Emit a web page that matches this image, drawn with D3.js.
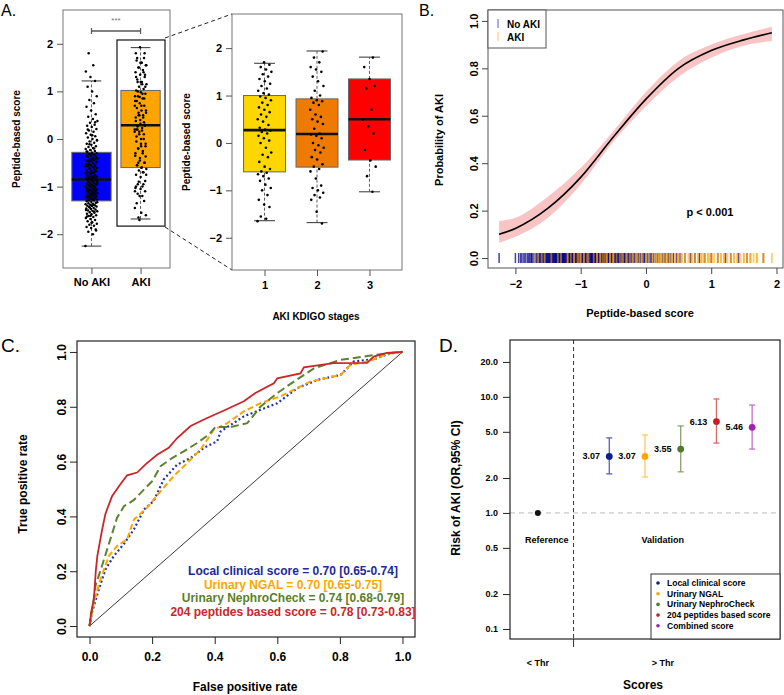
<!DOCTYPE html>
<html><head><meta charset="utf-8">
<script src="https://cdn.jsdelivr.net/npm/d3@7"></script>
<style>
body{margin:0;background:#fff}
svg{display:block}
text{font-family:"Liberation Sans",Arial,Helvetica,sans-serif}
</style>
</head><body>
<svg id="c" width="784" height="695"></svg>
<script>
// ---------------- DATA ----------------
// Panel A: peptide-based score by group
const groupsA = ["No AKI", "AKI"];
const noAki = [
 -2.25,-2.0,-1.95,-1.9,-1.87,-1.85,-1.82,-1.8,-1.78,-1.75,-1.73,-1.7,-1.68,-1.66,-1.64,-1.62,-1.6,-1.58,-1.57,-1.55,
 -1.54,-1.52,-1.51,-1.5,-1.48,-1.47,-1.46,-1.45,-1.43,-1.42,-1.41,-1.4,-1.39,-1.38,-1.37,-1.36,-1.35,-1.34,-1.32,-1.31,
 -1.29,-1.28,-1.27,-1.26,-1.25,-1.24,-1.23,-1.22,-1.21,-1.2,-1.19,-1.18,-1.17,-1.16,-1.15,-1.14,-1.13,-1.12,-1.11,-1.1,
 -1.09,-1.08,-1.07,-1.06,-1.05,-1.04,-1.02,-1.01,-1.0,-0.99,-0.97,-0.96,-0.95,-0.94,-0.93,-0.92,-0.9,-0.89,-0.87,-0.86,
 -0.84,-0.83,-0.82,-0.8,-0.79,-0.78,-0.76,-0.75,-0.74,-0.72,-0.71,-0.7,-0.68,-0.67,-0.65,-0.64,-0.62,-0.61,-0.59,-0.58,
 -0.56,-0.55,-0.53,-0.52,-0.5,-0.49,-0.47,-0.46,-0.44,-0.43,-0.41,-0.4,-0.38,-0.37,-0.35,-0.34,-0.33,-0.31,-0.3,-0.29,
 -0.27,-0.25,-0.23,-0.21,-0.19,-0.17,-0.15,-0.12,-0.1,-0.08,-0.05,-0.03,0.0,0.03,0.06,0.09,0.12,0.15,0.18,0.21,
 0.25,0.28,0.3,0.34,0.38,0.42,0.47,0.52,0.6,0.68,0.75,0.82,0.9,1.0,1.1,1.22,1.3,1.42,1.55,1.8,
 -1.92,-1.76,-1.63,-1.53,-1.44,-1.33,-1.27,-1.19,-1.13,-1.07,-1.03,-0.98,-0.91,-0.85,-0.81,-0.77,-0.69,-0.63,-0.57,-0.51,
 -0.45,-0.39,-0.32,-0.26,-0.2,-0.11,-0.02,0.08,0.2,0.35,
 -1.61,-1.49,-1.38,-1.29,-1.21,-1.16,-1.09,-1.04,-0.99,-0.94,-0.88,-0.83,-0.78,-0.73,-0.66,-0.6,-0.54,-0.48,-0.42,-0.36
];
const stage1 = [
 -1.65,-1.6,-1.55,-1.35,-1.3,-1.2,-1.1,-1.0,-0.95,-0.88,-0.8,-0.75,-0.7,-0.66,-0.63,
 -0.6,-0.55,-0.5,-0.4,-0.3,-0.25,-0.2,-0.1,0.0,0.05,0.1,0.15,0.2,0.23,0.26,
 0.28,0.32,0.38,0.45,0.5,0.55,0.6,0.65,0.7,0.75,0.8,0.85,0.9,0.95,0.98,
 1.02,1.05,1.1,1.15,1.2,1.25,1.3,1.35,1.4,1.45,1.5,1.55,1.6,1.65,1.7
];
const stage2 = [
 -1.7,-1.45,-1.2,-1.15,-1.1,-1.05,-1.0,-0.95,-0.9,-0.75,-0.6,-0.55,
 -0.5,-0.45,-0.35,-0.3,-0.2,-0.15,-0.1,-0.05,0.0,0.1,0.15,0.18,
 0.2,0.3,0.4,0.45,0.5,0.55,0.6,0.7,0.8,0.85,0.88,0.9,
 0.95,1.0,1.1,1.2,1.3,1.4,1.5,1.55,1.6,1.7,1.8,1.93
];
const stage3 = [-1.03,-0.7,-0.5,-0.37,-0.15,0.2,0.35,0.5,0.7,1.15,1.2,1.35,1.6,1.8];
const aki = stage1.concat(stage2, stage3);
// box statistics: [lowWhisker, Q1, median, Q3, highWhisker]
const boxA = [[-2.25,-1.3,-0.85,-0.28,1.22],[-1.68,-0.6,0.29,1.02,1.92]];
const stagesLabels = ["1","2","3"];
const boxStages = [[-1.64,-0.61,0.27,1.0,1.68],[-1.68,-0.51,0.19,0.93,1.94],[-1.03,-0.36,0.5,1.35,1.81]];
const ticksScore = [-2,-1,0,1,2];

// Panel B: logistic fit
const fitX  = [-2.25,-2.0,-1.5,-1.0,-0.5,0.0,0.5,1.0,1.5,1.93];
const fitP  = [0.10,0.125,0.21,0.34,0.51,0.67,0.80,0.875,0.92,0.95];
const fitLo = [0.065,0.09,0.17,0.31,0.49,0.64,0.765,0.845,0.895,0.915];
const fitHi = [0.155,0.17,0.26,0.38,0.535,0.70,0.83,0.90,0.945,0.975];
const ticksProb = [0,0.2,0.4,0.6,0.8,1.0];

// Panel C: ROC curves [FPR, TPR]
const rocLocal = [[0,0],[0.008,0.05],[0.03,0.135],[0.051,0.207],[0.078,0.256],[0.11,0.30],[0.142,0.353],[0.174,0.425],[0.205,0.456],[0.237,0.535],[0.28,0.589],[0.323,0.613],[0.365,0.65],[0.408,0.674],[0.419,0.71],[0.493,0.765],[0.546,0.789],[0.6,0.813],[0.664,0.868],[0.728,0.898],[0.802,0.916],[0.844,0.965],[0.908,0.973],[0.96,0.995],[1,1]];
const rocNgal = [[0,0],[0.014,0.086],[0.035,0.171],[0.062,0.256],[0.088,0.292],[0.12,0.316],[0.142,0.389],[0.184,0.432],[0.227,0.492],[0.269,0.547],[0.312,0.595],[0.355,0.644],[0.397,0.716],[0.44,0.74],[0.493,0.783],[0.546,0.813],[0.61,0.838],[0.664,0.868],[0.706,0.892],[0.802,0.916],[0.834,0.953],[0.898,0.968],[0.95,0.993],[1,1]];
const rocNephro = [[0,0],[0.01,0.07],[0.019,0.147],[0.04,0.22],[0.062,0.30],[0.088,0.395],[0.11,0.437],[0.142,0.46],[0.179,0.504],[0.2,0.528],[0.227,0.583],[0.264,0.613],[0.301,0.637],[0.344,0.668],[0.381,0.698],[0.402,0.726],[0.45,0.726],[0.504,0.74],[0.546,0.80],[0.6,0.85],[0.653,0.892],[0.717,0.94],[0.802,0.971],[0.887,0.985],[0.95,0.995],[1,1]];
const rocPeptide = [[0,0],[0.005,0.05],[0.014,0.098],[0.02,0.2],[0.025,0.256],[0.04,0.35],[0.051,0.41],[0.072,0.474],[0.094,0.51],[0.12,0.55],[0.152,0.56],[0.179,0.59],[0.216,0.625],[0.253,0.65],[0.28,0.686],[0.323,0.73],[0.376,0.759],[0.435,0.789],[0.493,0.82],[0.53,0.85],[0.589,0.886],[0.6,0.904],[0.674,0.922],[0.685,0.944],[0.78,0.959],[0.887,0.96],[0.908,0.983],[0.95,0.997],[1,1]];
const rocLabels = ["Local clinical score = 0.70 [0.65-0.74]","Urinary NGAL = 0.70 [0.65-0.75]","Urinary NephroCheck = 0.74 [0.68-0.79]","204 peptides based score = 0.78 [0.73-0.83]"];
const ticksRate = [0,0.2,0.4,0.6,0.8,1.0];

// Panel D: odds ratios
const scoreNames = ["Local clinical score","Urinary NGAL","Urinary NephroCheck","204 peptides based score","Combined score"];
const orValues = [3.07,3.07,3.55,6.13,5.46];
const ciLow  = [2.17,2.04,2.26,4.0,3.55];
const ciHigh = [4.43,4.7,5.62,9.6,8.5];
const refOR = 1.0;
const ticksOR = [0.1,0.2,0.5,1.0,2.0,5.0,10.0,20.0];
const xCatsD = ["< Thr","> Thr"];

// ---------------- DRAW ----------------
const svg = d3.select("#c");
const F = '"Liberation Sans",Arial,sans-serif';
function txt(g,x,y,s,o={}){
  const t=g.append("text").attr("x",x).attr("y",y).text(s)
   .attr("font-size",o.size||11).attr("font-weight",o.w||"bold")
   .attr("text-anchor",o.anchor||"middle").attr("fill",o.fill||"#000");
  if(o.rot) t.attr("transform",`rotate(${o.rot},${x},${y})`);
  return t;
}
function frame(x0,y0,x1,y1,stroke="#666",w=1){
  svg.append("rect").attr("x",x0).attr("y",y0).attr("width",x1-x0).attr("height",y1-y0)
   .attr("fill","none").attr("stroke",stroke).attr("stroke-width",w);
}
function styleAxis(g,size,col="#333"){
  g.select(".domain").remove();
  g.selectAll(".tick line").attr("stroke",col);
  g.selectAll(".tick text").attr("font-size",size).attr("font-weight","bold").attr("fill","#000").attr("font-family",F);
}
function jit(i,w){ return (((i*0.6180339887)%1)-0.5)*2*w; }

// Panel letters
txt(svg,1,16,"A.",{size:16,w:"normal",anchor:"start"});
txt(svg,419,16,"B.",{size:16,w:"normal",anchor:"start"});
txt(svg,1,352,"C.",{size:19,w:"normal",anchor:"start"});
txt(svg,439,352,"D.",{size:19,w:"normal",anchor:"start"});

// ---- Panel A left ----
const xA = d3.scaleLinear().domain([0.42,2.6]).range([63,170]);
const yA = d3.scaleLinear().domain([-2.71,2.71]).range([268,10]);
const colA = ["#0000FF","#FFA500"];
function boxplot(g,xs,ys,i,st,fill,bw){
  const cx=xs(i+1), hw=(xs(1+bw/2)-xs(1));
  g.append("line").attr("x1",cx).attr("x2",cx).attr("y1",ys(st[0])).attr("y2",ys(st[1])).attr("stroke","#333").attr("stroke-dasharray","3,2").attr("stroke-width",0.8);
  g.append("line").attr("x1",cx).attr("x2",cx).attr("y1",ys(st[3])).attr("y2",ys(st[4])).attr("stroke","#333").attr("stroke-dasharray","3,2").attr("stroke-width",0.8);
  [st[0],st[4]].forEach(v=>g.append("line").attr("x1",cx-hw/2).attr("x2",cx+hw/2).attr("y1",ys(v)).attr("y2",ys(v)).attr("stroke","#444").attr("stroke-width",1.1));
  g.append("rect").attr("x",cx-hw).attr("width",2*hw).attr("y",ys(st[3])).attr("height",ys(st[1])-ys(st[3])).attr("fill",fill).attr("stroke","#666").attr("stroke-width",1);
  g.append("line").attr("x1",cx-hw).attr("x2",cx+hw).attr("y1",ys(st[2])).attr("y2",ys(st[2])).attr("stroke","#111").attr("stroke-width",2.6);
}
const gA = svg.append("g");
boxA.forEach((st,i)=>boxplot(gA,xA,yA,i,st,colA[i],0.8));
[noAki,aki].forEach((arr,i)=>{
  gA.selectAll(null).data(arr).enter().append("circle")
   .attr("cx",(d,j)=>xA(i+1)+jit(j+i*7,6)).attr("cy",d=>yA(d)).attr("r",1.25).attr("fill","#000");
});
frame(63,10,170,268,"#777",1);
// highlight box
gA.append("rect").attr("x",117).attr("y",yA(2.08)).attr("width",48).attr("height",yA(-1.83)-yA(2.08)).attr("fill","none").attr("stroke","#111").attr("stroke-width",1.2);
// significance bracket
gA.append("line").attr("x1",xA(1)).attr("x2",xA(2)).attr("y1",31).attr("y2",31).attr("stroke","#555").attr("stroke-width",1.5);
[1,2].forEach(k=>gA.append("line").attr("x1",xA(k)).attr("x2",xA(k)).attr("y1",28).attr("y2",34).attr("stroke","#555").attr("stroke-width",1.2));
txt(gA,116,23,"***",{size:8,w:"normal",fill:"#777"});
const axAL = svg.append("g").attr("transform","translate(63,0)").call(d3.axisLeft(yA).tickValues(ticksScore).tickSize(6).tickPadding(4).tickFormat(d3.format("d")));
styleAxis(axAL,11,"#555");
const axAB = svg.append("g").attr("transform","translate(0,268)").call(d3.axisBottom(xA).tickValues([1,2]).tickSize(6).tickPadding(4).tickFormat(d=>groupsA[d-1]));
styleAxis(axAB,11,"#555");
txt(svg,20,139,"Peptide-based score",{size:10,rot:-90});

// dashed connectors
svg.append("line").attr("x1",165).attr("y1",38).attr("x2",232).attr("y2",14).attr("stroke","#222").attr("stroke-dasharray","4,3").attr("stroke-width",1);
svg.append("line").attr("x1",165).attr("y1",227).attr("x2",232).attr("y2",270).attr("stroke","#222").attr("stroke-dasharray","4,3").attr("stroke-width",1);

// ---- Panel A right (stages) ----
const xS = d3.scaleLinear().domain([0.38,3.62]).range([232,402]);
const yS = d3.scaleLinear().domain([-2.68,2.72]).range([270,14]);
const colS = ["#FFD700","#EE7A00","#FF0000"];
const gS = svg.append("g");
boxStages.forEach((st,i)=>boxplot(gS,xS,yS,i,st,colS[i],0.8));
[stage1,stage2,stage3].forEach((arr,i)=>{
  gS.selectAll(null).data(arr).enter().append("circle")
   .attr("cx",(d,j)=>xS(i+1)+jit(j+3*i,7)).attr("cy",d=>yS(d)).attr("r",1.3).attr("fill","#000");
});
frame(232,14,402,270,"#777",1);
const axSL = svg.append("g").attr("transform","translate(232,0)").call(d3.axisLeft(yS).tickValues(ticksScore).tickSize(6).tickPadding(4).tickFormat(d3.format("d")));
styleAxis(axSL,11,"#555");
const axSB = svg.append("g").attr("transform","translate(0,270)").call(d3.axisBottom(xS).tickValues([1,2,3]).tickSize(6).tickPadding(5).tickFormat(d=>stagesLabels[d-1]));
styleAxis(axSB,11,"#555");
txt(svg,190,142,"Peptide-based score",{size:10,rot:-90});
txt(svg,316,320,"AKI KDIGO stages",{size:10});

// ---- Panel B ----
const xB = d3.scaleLinear().domain([-2.42,2.1]).range([488,783]);
const yB = d3.scaleLinear().domain([-0.042,1.046]).range([268,10]);
const gB = svg.append("g");
const fitRows = fitX.map((x,i)=>({x,p:fitP[i],lo:fitLo[i],hi:fitHi[i]}));
gB.append("path").datum(fitRows).attr("d",d3.area().x(d=>xB(d.x)).y0(d=>yB(d.lo)).y1(d=>yB(d.hi)).curve(d3.curveMonotoneX)).attr("fill","#F9C4C4");
gB.append("path").datum(fitRows).attr("d",d3.line().x(d=>xB(d.x)).y(d=>yB(d.p)).curve(d3.curveMonotoneX)).attr("fill","none").attr("stroke","#000").attr("stroke-width",1.6);
gB.selectAll(null).data(noAki).enter().append("line").attr("x1",d=>xB(d)).attr("x2",d=>xB(d)).attr("y1",yB(0)-5).attr("y2",yB(0)+5).attr("stroke","#00008B").attr("stroke-opacity",0.75).attr("stroke-width",1.5);
gB.selectAll(null).data(aki).enter().append("line").attr("x1",d=>xB(d)).attr("x2",d=>xB(d)).attr("y1",yB(0)-5).attr("y2",yB(0)+5).attr("stroke","#FFA500").attr("stroke-opacity",0.55).attr("stroke-width",1.8);
frame(488,10,783,268,"#555",1);
// legend
svg.append("rect").attr("x",488).attr("y",10).attr("width",58).attr("height",38).attr("fill","#fff").attr("stroke","#555");
svg.append("line").attr("x1",498).attr("x2",498).attr("y1",19).attr("y2",28).attr("stroke","#8080E0").attr("stroke-width",1.3);
svg.append("line").attr("x1",498).attr("x2",498).attr("y1",32).attr("y2",41).attr("stroke","#FFD090").attr("stroke-width",1.3);
txt(svg,507,28,"No AKI",{size:10,anchor:"start"});
txt(svg,507,41,"AKI",{size:10,anchor:"start"});
txt(svg,710,216,"p < 0.001",{size:11});
const axBL = svg.append("g").attr("transform","translate(488,0)").call(d3.axisLeft(yB).tickValues(ticksProb).tickSize(6).tickFormat(d3.format(".1f")));
styleAxis(axBL,11,"#444");
axBL.selectAll(".tick text").attr("transform","rotate(-90)").attr("x",0).attr("y",-10).attr("dy","0").attr("text-anchor","middle");
const axBB = svg.append("g").attr("transform","translate(0,268)").call(d3.axisBottom(xB).tickValues(ticksScore).tickSize(6).tickPadding(6).tickFormat(d3.format("d")));
styleAxis(axBB,11,"#444");
txt(svg,443,140,"Probability of AKI",{size:11,rot:-90});
txt(svg,640,317,"Peptide-based score",{size:11});

// ---- Panel C ----
const xC = d3.scaleLinear().domain([-0.04,1.04]).range([77,415]);
const yC = d3.scaleLinear().domain([-0.04,1.04]).range([637,341]);
const gC = svg.append("g");
gC.append("line").attr("x1",xC(0)).attr("y1",yC(0)).attr("x2",xC(1)).attr("y2",yC(1)).attr("stroke","#222").attr("stroke-width",0.9);
const rocLine = d3.line().x(d=>xC(d[0])).y(d=>yC(d[1]));
const rocSet = [
  {d:rocLocal, c:"#2233B0", dash:"2,2.5", w:2.2},
  {d:rocNgal, c:"#FFA500", dash:"6,3", w:2},
  {d:rocNephro, c:"#5E8030", dash:"8,4", w:2},
  {d:rocPeptide, c:"#CC2529", dash:null, w:1.8}
];
rocSet.forEach(s=>{
  const p=gC.append("path").datum(s.d).attr("d",rocLine).attr("fill","none").attr("stroke",s.c).attr("stroke-width",s.w);
  if(s.dash) p.attr("stroke-dasharray",s.dash);
});
frame(77,341,415,637,"#222",1.2);
const rocTextCol = ["#1A2A9A","#FFA500","#5A7F2A","#C82828"];
rocLabels.forEach((s,i)=>txt(svg,293,575+i*13.7,s,{size:12,fill:rocTextCol[i]}));
const axCL = svg.append("g").attr("transform","translate(77,0)").call(d3.axisLeft(yC).tickValues(ticksRate).tickSize(7).tickFormat(d3.format(".1f")));
styleAxis(axCL,12,"#222");
axCL.selectAll(".tick text").attr("transform","rotate(-90)").attr("x",0).attr("y",-11).attr("dy","0").attr("text-anchor","middle");
const axCB = svg.append("g").attr("transform","translate(0,637)").call(d3.axisBottom(xC).tickValues(ticksRate).tickSize(7).tickPadding(8).tickFormat(d3.format(".1f")));
styleAxis(axCB,12,"#222");
txt(svg,27,484,"True positive rate",{size:12,rot:-90});
txt(svg,245,691,"False positive rate",{size:12});

// ---- Panel D ----
const xD = d3.scaleLinear().domain([-0.78,6.78]).range([510,780]);
const yD = d3.scaleLog().domain([0.082,30.9]).range([639,340]);
const gD = svg.append("g");
gD.append("line").attr("x1",510).attr("x2",780).attr("y1",yD(refOR)).attr("y2",yD(refOR)).attr("stroke","#bbb").attr("stroke-dasharray","5,4").attr("stroke-width",1);
gD.append("line").attr("x1",xD(1)).attr("x2",xD(1)).attr("y1",340).attr("y2",639).attr("stroke","#333").attr("stroke-dasharray","4,3").attr("stroke-width",1);
gD.append("line").attr("x1",xD(1)).attr("x2",xD(1)).attr("y1",639).attr("y2",647).attr("stroke","#333").attr("stroke-width",1);
gD.append("circle").attr("cx",xD(0)).attr("cy",yD(refOR)).attr("r",3).attr("fill","#111");
const dotCol = ["#0B1F8F","#FFA500","#4F7A28","#C81E1E","#A020B0"];
const barCol = ["#5262B8","#FFC865","#8CA070","#D46A6A","#C070CC"];
orValues.forEach((v,i)=>{
  const cx=xD(i+2);
  gD.append("line").attr("x1",cx).attr("x2",cx).attr("y1",yD(ciLow[i])).attr("y2",yD(ciHigh[i])).attr("stroke",barCol[i]).attr("stroke-width",1.3);
  [ciLow[i],ciHigh[i]].forEach(c=>gD.append("line").attr("x1",cx-3).attr("x2",cx+3).attr("y1",yD(c)).attr("y2",yD(c)).attr("stroke",barCol[i]).attr("stroke-width",1.3));
  gD.append("circle").attr("cx",cx).attr("cy",yD(v)).attr("r",3.4).attr("fill",dotCol[i]);
  txt(gD,cx-18,yD(v)+3,v.toFixed(2),{size:9});
});
txt(gD,xD(0.25),543,"Reference",{size:9});
txt(gD,xD(3.5),543,"Validation",{size:9});
frame(510,340,780,639,"#222",1.2);
// legend D
svg.append("rect").attr("x",651).attr("y",574).attr("width",129).attr("height",65).attr("fill","#fff").attr("stroke","#333");
scoreNames.forEach((s,i)=>{
  svg.append("circle").attr("cx",658).attr("cy",586+i*10.7-3).attr("r",1.8).attr("fill",dotCol[i]);
  txt(svg,667,586+i*10.7,s,{size:8.5,anchor:"start"});
});
const axDL = svg.append("g").attr("transform","translate(510,0)").call(d3.axisLeft(yD).tickValues(ticksOR).tickSize(7).tickPadding(5).tickFormat(d3.format(".1f")));
styleAxis(axDL,9,"#222");
xCatsD.forEach((s,i)=>txt(svg,xD(i===0?0:3.5),666,s,{size:9}));
txt(svg,460,488,"Risk of AKI (OR,95% CI)",{size:12,rot:-90});
txt(svg,643,689,"Scores",{size:12});
</script>
</body></html>
